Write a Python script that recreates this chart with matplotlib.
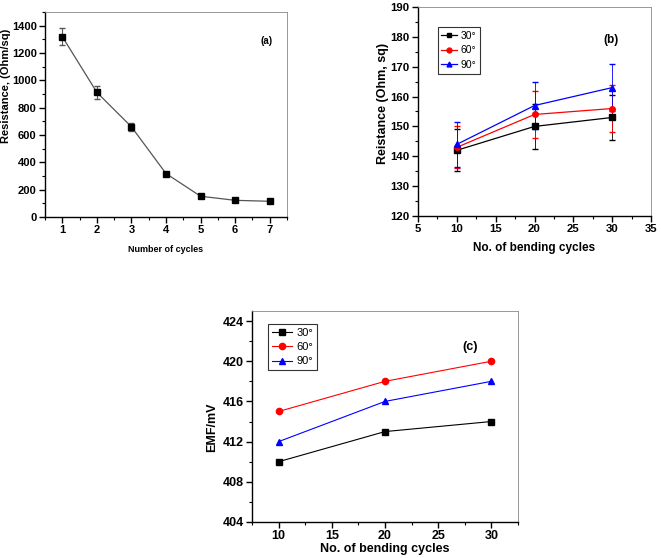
import matplotlib
matplotlib.use("Agg")
import matplotlib.pyplot as plt
from matplotlib.ticker import MultipleLocator
from matplotlib.lines import Line2D

plt.rcParams['font.family'] = ['Liberation Sans', 'DejaVu Sans']

# (a) sheet resistance vs number of cycles
cycles = [1, 2, 3, 4, 5, 6, 7]
res_a = [1320, 912, 660, 318, 152, 122, 115]
err_a = [65, 45, 30, 10, 8, 6, 5]

# (b) resistance vs bending cycles
bend = [10, 20, 30]
angles = ["30°", "60°", "90°"]
res_b = {"30°": [142, 150, 153], "60°": [143, 154, 156], "90°": [144, 157, 163]}
err_b = {"30°": [7, 7.5, 7.5], "60°": [7, 8, 8], "90°": [7.5, 8, 8]}

# (c) EMF vs bending cycles
emf_c = {"30°": [410, 413, 414], "60°": [415, 418, 420], "90°": [412, 416, 418]}

colors = {"30°": "black", "60°": "red", "90°": "blue"}
markers = {"30°": "s", "60°": "o", "90°": "^"}

W, H = 661, 558
fig = plt.figure(figsize=(W / 100, H / 100), dpi=100)


def px_axes(x0, y0, x1, y1):
    return fig.add_axes([x0 / W, 1 - y1 / H, (x1 - x0) / W, (y1 - y0) / H])


def style(ax, fs):
    for s in ["left", "bottom"]:
        ax.spines[s].set_linewidth(1.0)
    for s in ["top", "right"]:
        ax.spines[s].set_linewidth(0.6)
        ax.spines[s].set_color("#888888")
    ax.tick_params(which="major", direction="out", length=4, width=1, pad=2,
                   labelsize=fs)
    ax.tick_params(which="minor", direction="out", length=2, width=0.8)
    for lab in ax.get_xticklabels() + ax.get_yticklabels():
        lab.set_fontweight("bold")


# panel a
ax = px_axes(45, 12, 287, 217)
ax.errorbar(cycles, res_a, yerr=err_a, color="#555555", lw=0.9, marker="s",
            ms=4.5, mfc="black", mec="black", ecolor="#555555", elinewidth=0.8,
            capsize=2)
ax.set_xlim(0.5, 7.5)
ax.set_ylim(0, 1500)
ax.xaxis.set_major_locator(MultipleLocator(1))
ax.xaxis.set_minor_locator(MultipleLocator(0.5))
ax.set_yticks(range(0, 1401, 200))
ax.yaxis.set_minor_locator(MultipleLocator(100))
style(ax, 8)
ax.set_xlabel("Number of cycles", fontsize=6.5, fontweight="bold")
ax.xaxis.set_label_coords(0.5, -0.135)
ax.set_ylabel("Resistance, (Ohm/sq)", fontsize=8, fontweight="bold")
ax.yaxis.set_label_coords(-0.14, 0.64)
ax.text(0.917, 0.859, "(a)", fontsize=7, fontweight="bold", ha="center",
        va="center", transform=ax.transAxes)

# panel b
ax = px_axes(418, 7, 651, 216)
for a in angles:
    ax.errorbar(bend, res_b[a], yerr=err_b[a], color=colors[a], lw=0.9,
                marker=markers[a], ms=4, ecolor=colors[a], elinewidth=0.6,
                capsize=2)
ax.set_xlim(5, 35)
ax.set_ylim(120, 190)
ax.xaxis.set_major_locator(MultipleLocator(5))
ax.xaxis.set_minor_locator(MultipleLocator(2.5))
ax.yaxis.set_major_locator(MultipleLocator(10))
ax.yaxis.set_minor_locator(MultipleLocator(5))
style(ax, 8.2)
ax.set_xlabel("No. of bending cycles", fontsize=8.5, fontweight="bold")
ax.xaxis.set_label_coords(0.5, -0.125)
ax.set_ylabel("Reistance (Ohm, sq)", fontsize=9, fontweight="bold")
ax.yaxis.set_label_coords(-0.125, 0.54)
ax.text(0.83, 0.84, "(b)", fontsize=8.5, fontweight="bold", ha="center",
        va="center", transform=ax.transAxes)
handles = [Line2D([], [], color=colors[a], lw=0.9, marker=markers[a], ms=3.5)
           for a in angles]
leg = ax.legend(handles, angles, loc="upper left", bbox_to_anchor=(0.085, 0.905),
                fontsize=7.5, fancybox=False, edgecolor="black", handlelength=1.5,
                borderpad=0.35, labelspacing=0.45, handletextpad=0.3,
                borderaxespad=0)
leg.get_frame().set_linewidth(0.8)

# panel c
ax = px_axes(252, 311, 518, 522)
for a in angles:
    ax.plot(bend, emf_c[a], color=colors[a], lw=0.8, marker=markers[a], ms=4.5,
            label=a)
ax.set_xlim(7.5, 32.5)
ax.set_ylim(404, 425)
ax.xaxis.set_major_locator(MultipleLocator(5))
ax.xaxis.set_minor_locator(MultipleLocator(2.5))
ax.set_yticks(range(404, 425, 4))
ax.yaxis.set_minor_locator(MultipleLocator(2))
style(ax, 9)
ax.set_xlabel("No. of bending cycles", fontsize=9, fontweight="bold")
ax.xaxis.set_label_coords(0.5, -0.1)
ax.set_ylabel("EMF/mV", fontsize=9, fontweight="bold")
ax.yaxis.set_label_coords(-0.128, 0.45)
ax.text(0.82, 0.83, "(c)", fontsize=9, fontweight="bold", ha="center", va="center",
        transform=ax.transAxes)
leg = ax.legend(loc="upper left", bbox_to_anchor=(0.06, 0.94), fontsize=8,
                fancybox=False, edgecolor="black", handlelength=1.8,
                borderpad=0.35, labelspacing=0.4, handletextpad=0.4,
                borderaxespad=0)
leg.get_frame().set_linewidth(0.8)

fig.savefig("out.png", dpi=100)
